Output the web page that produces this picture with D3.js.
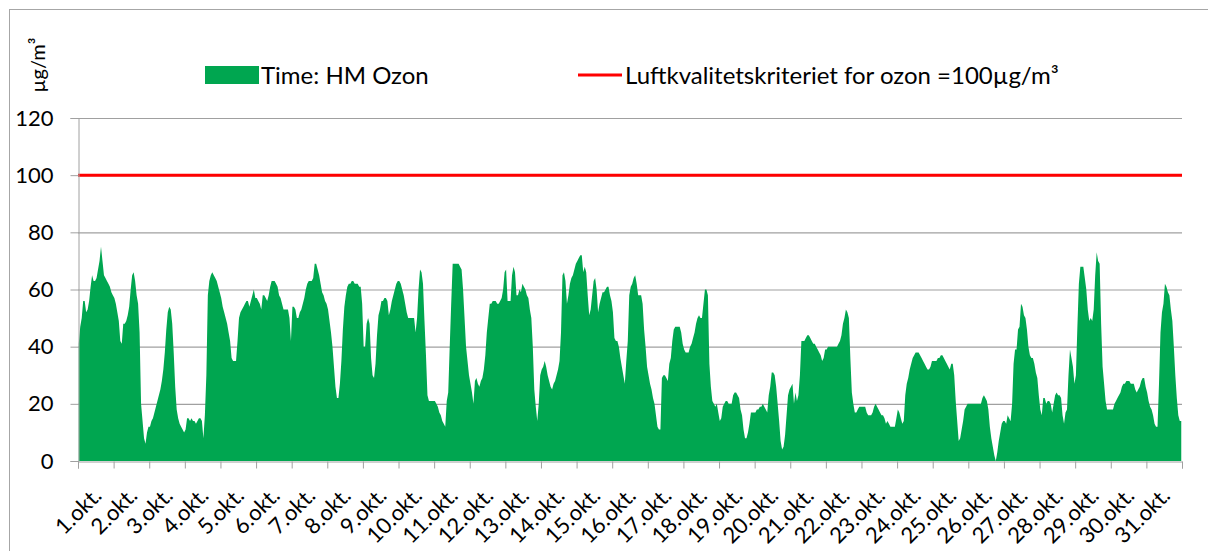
<!DOCTYPE html>
<html>
<head>
<meta charset="utf-8">
<script src="https://cdn.jsdelivr.net/npm/d3@7"></script>
<style>
  body { margin: 0; background: #fff; }
  text { font-family: Lato, "Open Sans", sans-serif; fill: #000; }
</style>
</head>
<body>
<div id="chart"></div>
<script>
// hourly ozone values (µg/m³), one row per day in October
const ozone = [
  [41,47,50,56,56,52,53,56,61,65,63,63,64,67,70,75,70,65,64,63,62,61,59,58],
  [57,55,52,49,42,41,48,48,49,51,54,60,65,66,63,58,55,45,20,14,8,6,10,12],
  [12,14,15,17,19,21,23,25,28,32,38,46,52,54,53,48,38,26,18,15,13,12,11,10],
  [11,15,15,14,15,14,14,13,14,15,15,14,8,16,30,58,63,65,66,65,64,63,61,59],
  [57,54,52,50,48,45,42,36,35,35,35,42,50,52,53,54,55,56,56,54,56,58,60,57],
  [57,56,55,53,58,58,57,56,58,61,63,63,63,62,61,58,57,55,53,53,53,53,50,42],
  [54,54,53,50,50,52,53,55,57,60,62,63,63,63,64,69,69,67,65,62,59,58,56,55],
  [53,49,45,40,33,26,22,22,27,35,46,54,58,61,62,62,63,63,62,62,62,61,61,55],
  [40,40,48,50,48,36,30,29,34,44,51,53,56,56,57,57,56,51,53,56,58,60,62,63],
  [63,62,60,58,55,52,50,50,50,50,50,45,50,60,67,66,62,49,37,23,21,21,21,21],
  [21,20,19,17,16,14,13,12,21,24,40,55,69,69,69,69,69,68,67,60,50,40,35,30],
  [27,24,20,28,29,27,26,28,29,32,37,45,50,55,55,56,56,56,55,55,56,57,60,66],
  [67,56,56,56,65,68,66,58,58,60,59,62,61,60,58,57,53,50,40,25,19,14,20,30],
  [32,33,35,33,30,28,26,25,27,28,30,32,35,45,65,66,63,55,58,62,64,65,67,69],
  [70,71,72,72,66,68,66,58,51,53,58,63,64,60,52,55,57,59,59,60,61,61,58,56],
  [52,43,42,42,40,36,33,30,27,35,42,58,61,62,64,65,62,58,58,58,55,46,40,33],
  [30,27,25,22,20,16,12,11,11,29,30,30,29,28,34,36,42,46,47,47,47,47,45,41],
  [39,38,38,38,40,41,43,45,48,50,51,50,50,55,60,60,58,34,26,21,20,19,20,17],
  [14,15,19,20,21,21,20,20,20,23,24,24,23,22,18,16,11,8,8,10,13,17,17,17],
  [17,18,18,19,19,20,19,18,17,23,26,31,31,30,26,20,14,7,4,5,9,16,23,25],
  [26,27,20,24,21,23,30,42,42,42,43,44,44,43,42,41,41,40,39,38,37,35,36,39],
  [39,40,40,40,40,40,40,40,41,42,44,48,50,53,52,50,36,24,20,17,17,18,19,19],
  [19,19,19,17,16,16,16,17,19,20,19,18,17,16,16,15,13,14,13,12,12,12,12,15],
  [18,17,15,13,14,23,27,29,32,34,36,37,38,38,38,37,36,35,34,33,32,32,33,35],
  [35,35,35,36,36,37,37,36,35,34,33,32,34,34,30,21,14,7,8,11,14,18,19,20],
  [20,20,20,20,20,20,20,20,20,22,23,22,21,18,12,8,5,2,0,3,7,10,13,14],
  [14,13,16,15,14,20,34,39,39,46,47,55,54,51,50,46,40,37,36,36,34,31,29,23],
  [18,16,22,22,20,21,21,20,17,20,23,24,23,23,22,16,13,17,18,30,39,36,33,27],
  [30,47,62,68,68,68,64,60,53,49,50,49,53,65,73,70,69,48,33,27,21,18,18,18],
  [18,18,20,21,22,23,24,26,27,27,28,28,28,27,27,27,25,24,25,26,28,29,29,26],
  [24,21,19,18,16,13,12,12,27,45,52,55,62,61,59,58,53,49,40,30,22,16,14,14]
];
const dayLabels = d3.range(1, 32).map(d => d + ".okt.");
const yTicks = [0, 20, 40, 60, 80, 100, 120];
const limitValue = 100;
const seriesName = "Time: HM Ozon";
const limitName = "Luftkvalitetskriteriet for ozon =100µg/m³";
const unitLabel = "µg/m³";

const width = 1208, height = 551;
const green = "#00a650", red = "#ff0000", grid = "#a0a0a0";

const svg = d3.select("#chart").append("svg")
    .attr("width", width)
    .attr("height", height);

// chart border
svg.append("rect")
    .attr("x", 9.5).attr("y", 9.5)
    .attr("width", width).attr("height", height)
    .attr("fill", "#fff")
    .attr("stroke", "#a6a6a6");

const hours = ozone.flat();
const x = d3.scaleLinear().domain([0, hours.length]).range([78, 1182]);
const y = d3.scaleLinear().domain([0, 120]).range([461, 118]);

// gridlines
svg.append("g")
  .selectAll("line")
  .data(yTicks.filter(d => d > 0))
  .join("line")
    .attr("x1", x(0)).attr("x2", x(hours.length))
    .attr("y1", d => y(d) + 0.5).attr("y2", d => y(d) + 0.5)
    .attr("stroke", grid).attr("stroke-width", 1.2);

// ozone area
const area = d3.area()
    .x((d, i) => x(i + 0.5))
    .y0(y(0))
    .y1(d => y(d));
svg.append("path")
    .datum(hours)
    .attr("d", area)
    .attr("fill", green);

// limit line
svg.append("line")
    .attr("x1", x(0)).attr("x2", x(hours.length))
    .attr("y1", y(limitValue)).attr("y2", y(limitValue))
    .attr("stroke", red).attr("stroke-width", 3);

// y axis
const yAxis = svg.append("g")
    .attr("transform", `translate(${x(0) + 0.5},0)`)
    .call(d3.axisLeft(y).tickValues(yTicks).tickSize(8).tickPadding(17));
yAxis.select(".domain").attr("stroke", grid);
yAxis.selectAll(".tick line").attr("stroke", grid);
yAxis.selectAll(".tick text")
    .style("font-family", "Lato, sans-serif")
    .style("font-size", "22px")
    .attr("fill", "#000");

// x axis: ticks at day boundaries
const xAxis = svg.append("g")
    .attr("transform", `translate(0,${y(0) + 0.5})`)
    .call(d3.axisBottom(x).tickValues(d3.range(0, hours.length + 1, 24)).tickSize(7).tickFormat(""));
xAxis.select(".domain").attr("stroke", grid);
xAxis.selectAll(".tick line").attr("stroke", grid);

svg.append("g")
  .selectAll("text")
  .data(dayLabels)
  .join("text")
    .attr("transform", (d, i) => `translate(${x(i * 24) + 25},497) rotate(-45)`)
    .attr("text-anchor", "end")
    .style("font-size", "22px")
    .text(d => d);

// unit label
svg.append("text")
    .attr("transform", "translate(45,65) rotate(-90)")
    .attr("text-anchor", "middle")
    .style("font-size", "20px")
    .text(unitLabel);

// legend
svg.append("rect")
    .attr("x", 205).attr("y", 66)
    .attr("width", 54).attr("height", 18)
    .attr("fill", green);
svg.append("text")
    .attr("x", 261).attr("y", 84)
    .style("font-size", "24px")
    .text(seriesName);
svg.append("line")
    .attr("x1", 578).attr("x2", 622)
    .attr("y1", 75).attr("y2", 75)
    .attr("stroke", red).attr("stroke-width", 3);
svg.append("text")
    .attr("x", 625).attr("y", 84)
    .style("font-size", "24px")
    .text(limitName);
</script>
</body>
</html>
